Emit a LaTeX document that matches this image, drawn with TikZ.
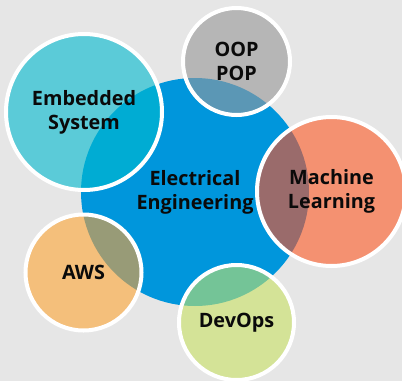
\documentclass[tikz,border=0pt]{standalone}
\usepackage{fontspec}
\setmainfont{Open Sans}
\definecolor{bg}{HTML}{E6E6E6}
\definecolor{eeblue}{HTML}{0096DC}
\definecolor{embc}{HTML}{5BCBD8}
\definecolor{embo}{HTML}{00ACD3}
\definecolor{oopc}{HTML}{B6B6B6}
\definecolor{oopo}{HTML}{5B97B5}
\definecolor{mlc}{HTML}{F49171}
\definecolor{mlo}{HTML}{9A6B6B}
\definecolor{awsc}{HTML}{F4BF7B}
\definecolor{awso}{HTML}{989B77}
\definecolor{devc}{HTML}{D4E397}
\definecolor{devo}{HTML}{74C497}
\definecolor{txt}{HTML}{0A0A0A}
\begin{document}
\begin{tikzpicture}[x=1pt,y=-1pt,
  lbl/.style={font=\bfseries\fontsize{19.8}{24}\selectfont, text=txt, align=center},
  sat/.style n args={2}{circle, inner sep=0pt, minimum size=#1, lbl,
    draw=white, line width=4pt, fill=#2},
  ovl/.style={path picture={\fill[#1] (ee.center) circle[radius=114pt];}}
]
\fill[bg] (0,0) rectangle (402,381);
\clip (0,0) rectangle (402,381);
\node[circle, inner sep=0pt, minimum size=228pt, fill=eeblue, lbl] (ee) at (195,192) {Electrical\\Engineering};
\node[sat={156pt}{embc}, ovl=embo] (emb) at (84,112) {Embedded\\System};
\node[sat={107pt}{oopc}, ovl=oopo] (oop) at (236.5,61.5) {OOP\\POP};
\node[sat={149pt}{mlc}, ovl=mlo] (ml) at (331.5,191.5) {Machine\\Learning};
\node[sat={116pt}{awsc}, ovl=awso] (aws) at (83.5,272.5) {AWS};
\node[sat={115pt}{devc}, ovl=devo] (dev) at (236.5,322.5) {DevOps};
\end{tikzpicture}
\end{document}
